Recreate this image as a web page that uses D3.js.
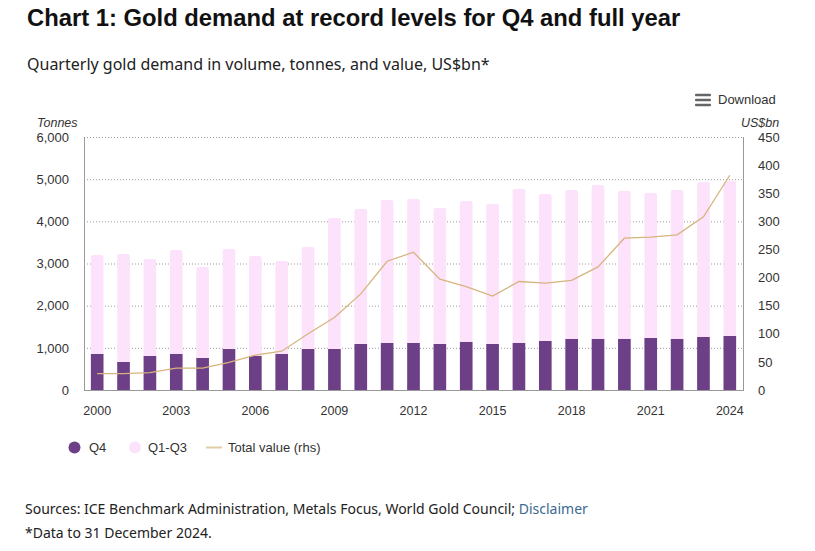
<!DOCTYPE html>
<html><head><meta charset="utf-8">
<script src="https://cdn.jsdelivr.net/npm/d3@7"></script>
<style>
body{margin:0;background:#fff;}
svg text{font-family:"Liberation Sans",Arial,sans-serif;}
</style></head>
<body>
<svg id="c" width="815" height="551"></svg>
<script>
const years = [2000,2001,2002,2003,2004,2005,2006,2007,2008,2009,2010,2011,2012,2013,2014,2015,2016,2017,2018,2019,2020,2021,2022,2023,2024];
const q4 = [854,664,806,854,759,972,806,854,972,972,1091,1115,1115,1091,1139,1091,1115,1162,1210,1210,1210,1233,1210,1257,1281];
const q1q3 = [2348,2562,2301,2467,2159,2373,2372,2206,2420,3108,3202,3392,3415,3226,3344,3321,3653,3487,3534,3652,3510,3440,3534,3677,3676];
const totalValue = [29,29,31,39,39,49,62,69,100,129,171,229,245,197,184,167,193,190,195,219,270,272,276,308,382];
const leftTicks = [0,1000,2000,3000,4000,5000,6000];
const rightTicks = [0,50,100,150,200,250,300,350,400,450];
const xTickYears = [2000,2003,2006,2009,2012,2015,2018,2021,2024];

const svg = d3.select("#c");
const L = 84, R = 743, T = 137, B = 390;
const x = d3.scaleBand().domain(years).range([L,R]).paddingInner(0.52).paddingOuter(0.26);
const y = d3.scaleLinear().domain([0,6000]).range([B,T]);
const y2 = d3.scaleLinear().domain([0,450]).range([B,T]);

// Title & subtitle
svg.append("text").attr("x",27).attr("y",26).attr("font-size",23.8).attr("font-weight","bold").attr("fill","#111")
  .text("Chart 1: Gold demand at record levels for Q4 and full year");
svg.append("text").attr("x",27).attr("y",70).attr("font-size",16).attr("fill","#222")
  .style("font-family","'Noto Sans','Open Sans',sans-serif")
  .text("Quarterly gold demand in volume, tonnes, and value, US$bn*");

// Download
const dl = svg.append("g");
[95,100,105].forEach(yy=>dl.append("rect").attr("x",695).attr("y",yy-1.3).attr("width",16).attr("height",2.6).attr("rx",1).attr("fill","#666"));
dl.append("text").attr("x",718).attr("y",104).attr("font-size",13).attr("fill","#333").text("Download");

// axis titles
svg.append("text").attr("x",37).attr("y",127).attr("font-size",12.5).attr("font-style","italic").attr("fill","#333").text("Tonnes");
svg.append("text").attr("x",741).attr("y",127).attr("font-size",12.5).attr("font-style","italic").attr("fill","#333").text("US$bn");

// gridlines
svg.append("g").selectAll("line").data(leftTicks.filter(d=>d>0)).join("line")
  .attr("x1",L).attr("x2",R).attr("y1",d=>y(d)+0.5).attr("y2",d=>y(d)+0.5)
  .attr("stroke","#999").attr("stroke-width",1).attr("stroke-dasharray","1,2");

// left axis
const ga = svg.append("g").attr("transform",`translate(${L},0)`)
  .call(d3.axisLeft(y).tickValues(leftTicks).tickFormat(d3.format(",")).tickSize(0).tickPadding(15));
ga.select(".domain").remove();
ga.selectAll("text").attr("font-size",13).attr("fill","#333").style("font-family","'Liberation Sans',Arial,sans-serif");

const gb = svg.append("g").attr("transform",`translate(${R},0)`)
  .call(d3.axisRight(y2).tickValues(rightTicks).tickSize(0).tickPadding(15));
gb.select(".domain").remove();
gb.selectAll("text").attr("font-size",13).attr("fill","#333").style("font-family","'Liberation Sans',Arial,sans-serif");

// bars
const bars = svg.append("g");
bars.selectAll("path.top").data(years).join("path").attr("class","top")
  .attr("d",(d,i)=>{
    const x0=x(d), w=x.bandwidth(), y0=y(q4[i]+q1q3[i]), y1=y(q4[i]), r=2;
    return `M${x0},${y1}V${y0+r}Q${x0},${y0} ${x0+r},${y0}H${x0+w-r}Q${x0+w},${y0} ${x0+w},${y0+r}V${y1}Z`;
  }).attr("fill","#fce3fb");
bars.selectAll("rect.q4").data(years).join("rect").attr("class","q4")
  .attr("x",d=>x(d)).attr("width",x.bandwidth())
  .attr("y",(d,i)=>y(q4[i])).attr("height",(d,i)=>B-y(q4[i])).attr("fill","#6d3f86");

// axis frame lines
svg.append("line").attr("x1",L+0.5).attr("x2",L+0.5).attr("y1",T).attr("y2",B+0.5).attr("stroke","#999");
svg.append("line").attr("x1",R+0.5).attr("x2",R+0.5).attr("y1",T).attr("y2",B+0.5).attr("stroke","#999");
svg.append("line").attr("x1",L).attr("x2",R+1).attr("y1",B+0.5).attr("y2",B+0.5).attr("stroke","#999");

// line
const line = d3.line().x((d,i)=>x(years[i])+x.bandwidth()/2).y(d=>y2(d));
svg.append("path").datum(totalValue).attr("d",line).attr("fill","none").attr("stroke","#d7b47e").attr("stroke-width",1.3);

// x axis
const gx = svg.append("g").attr("transform",`translate(0,${B})`)
  .call(d3.axisBottom(x).tickValues(xTickYears).tickSize(0).tickPadding(16));
gx.select(".domain").remove();
gx.selectAll("text").attr("font-size",12.5).attr("fill","#333").style("font-family","'Liberation Sans',Arial,sans-serif");

// legend
const lg = svg.append("g");
lg.append("circle").attr("cx",74.5).attr("cy",447.5).attr("r",6).attr("fill","#6d3f86");
lg.append("text").attr("x",89).attr("y",452).attr("font-size",13).attr("fill","#333").text("Q4");
lg.append("circle").attr("cx",135).attr("cy",447.5).attr("r",6).attr("fill","#fce3fb");
lg.append("text").attr("x",148).attr("y",452).attr("font-size",13).attr("fill","#333").text("Q1-Q3");
lg.append("line").attr("x1",206).attr("x2",222).attr("y1",447.5).attr("y2",447.5).attr("stroke","#e2cba8").attr("stroke-width",2);
lg.append("text").attr("x",228).attr("y",452).attr("font-size",13).attr("fill","#333").text("Total value (rhs)");

// footer
const ft = svg.append("text").attr("x",25).attr("y",514).attr("font-size",14).attr("fill","#222")
  .style("font-family","'Noto Sans','Open Sans',sans-serif");
ft.append("tspan").text("Sources: ICE Benchmark Administration, Metals Focus, World Gold Council; ");
ft.append("tspan").attr("fill","#3a6a8f").text("Disclaimer");
svg.append("text").attr("x",25).attr("y",538).attr("font-size",14).attr("fill","#222")
  .style("font-family","'Noto Sans','Open Sans',sans-serif").text("*Data to 31 December 2024.");
</script>
</body></html>
